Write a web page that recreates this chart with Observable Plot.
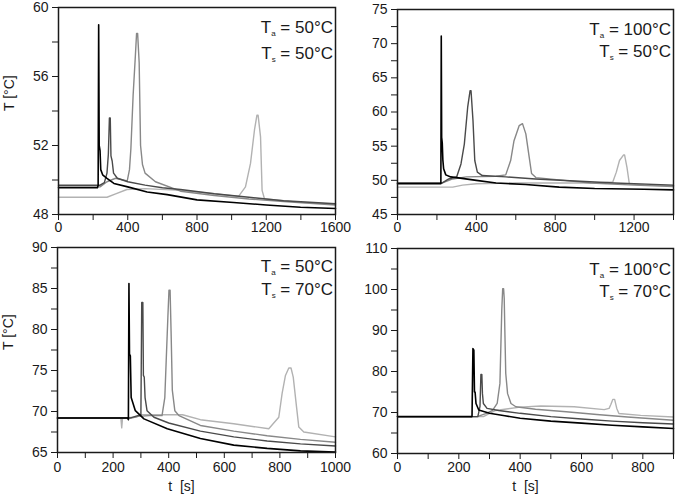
<!DOCTYPE html>
<html><head><meta charset="utf-8">
<script src="https://cdn.jsdelivr.net/npm/d3@7"></script>
<script src="https://cdn.jsdelivr.net/npm/@observablehq/plot@0.6"></script>
<style>
body{margin:0;background:#fff;}
#chart{position:relative;width:675px;height:498px;overflow:hidden;background:#fff;}
#chart svg{position:absolute;overflow:visible;}
</style></head><body><div id="chart"></div>
<script>
// ---- series styling order: black, dark gray, medium gray, light gray
const seriesNames = ["black", "dark", "medium", "light"];
const seriesColors = ["#000000", "#4a4a4a", "#888888", "#b2b2b2"];

// ---- Panel 1: Ta = 50 °C, Ts = 50 °C   [t (s), T (°C)]
const p1Black = [[0,49.55],[225,49.55],[229,49.7],[232,59.0],[235,52.0],[240,51.7],[244,50.6],[255,50.3],[280,50.1],[320,49.8],[400,49.6],[512,49.3],[628,49.15],[800,48.85],[1011,48.7],[1200,48.55],[1398,48.42],[1600,48.35]];
const p1Dark = [[0,49.7],[240,49.7],[265,49.85],[280,50.4],[288,51.5],[294,53.6],[299,53.6],[303,51.4],[310,51.1],[318,50.4],[340,50.1],[400,49.9],[500,49.7],[600,49.55],[705,49.45],[900,49.2],[1100,49.0],[1300,48.8],[1600,48.62]];
const p1Medium = [[0,49.6],[240,49.6],[280,49.9],[330,50.1],[397,49.95],[410,50.6],[418,51.8],[431,54.9],[444,57.2],[451,58.5],[457,58.5],[466,56.8],[474,52.0],[485,50.9],[500,50.4],[560,49.9],[705,49.35],[900,49.1],[1100,48.9],[1300,48.75],[1600,48.55]];
const p1Light = [[0,49.0],[280,49.0],[330,49.2],[395,49.45],[500,49.5],[705,49.4],[900,49.2],[1040,49.05],[1080,49.6],[1109,50.96],[1132,52.9],[1146,53.75],[1153,53.75],[1167,52.5],[1176,49.4],[1190,48.9],[1400,48.7],[1600,48.6]];

// ---- Panel 2: Ta = 100 °C, Ts = 50 °C
const p2Black = [[0,49.5],[220,49.5],[222,71.1],[224,56.3],[227,55.5],[230,53.0],[234,51.7],[245,50.8],[270,50.5],[300,50.4],[400,50.0],[500,49.6],[650,49.4],[820,49.0],[1000,48.8],[1250,48.7],[1400,48.6]];
const p2Dark = [[0,49.6],[225,49.6],[260,50.2],[300,50.5],[322,52.4],[339,55.3],[356,60.7],[368,63.1],[373,63.1],[383,58.7],[392,52.9],[405,51.2],[430,50.7],[550,50.5],[700,50.2],[900,49.9],[1100,49.6],[1400,49.3]];
const p2Medium = [[0,49.6],[225,49.6],[280,50.2],[350,50.5],[500,50.6],[549,50.8],[574,52.9],[591,55.8],[617,58.0],[634,58.3],[651,56.8],[668,53.4],[680,51.0],[702,50.4],[846,50.0],[981,49.6],[1200,49.3],[1400,49.1]];
const p2Light = [[0,49.0],[280,49.0],[330,49.3],[400,49.5],[600,49.6],[1000,49.6],[1092,49.75],[1110,51.2],[1126,52.9],[1146,53.7],[1152,53.7],[1164,51.9],[1176,49.5],[1250,49.3],[1400,49.2]];

// ---- Panel 3: Ta = 50 °C, Ts = 70 °C
const p3Black = [[0,69.2],[252,69.2],[255,69.0],[257,85.6],[259,77.0],[262,76.8],[265,71.7],[280,70.1],[311,69.1],[395,67.9],[514,66.7],[634,65.9],[754,65.5],[874,65.2],[1000,65.05]];
const p3Dark = [[0,69.2],[260,69.2],[280,69.4],[300,69.6],[303,83.3],[307,83.3],[309,74.4],[312,74.2],[315,71.7],[322,70.1],[347,69.3],[400,68.6],[514,67.6],[634,66.9],[754,66.4],[874,66.05],[1000,65.8]];
const p3Medium = [[0,69.2],[265,69.2],[290,69.4],[330,69.5],[376,69.5],[386,71.7],[391,76.2],[397,81.5],[401,84.8],[405,84.8],[409,79.1],[413,72.6],[422,70.1],[437,69.5],[514,68.3],[634,67.6],[754,67.05],[874,66.6],[1000,66.25]];
const p3Light = [[0,69.2],[228,69.2],[231,68.0],[234,69.2],[280,69.3],[300,69.6],[450,69.6],[514,69.0],[634,68.5],[760,67.9],[796,69.3],[808,72.2],[820,74.4],[832,75.3],[840,75.3],[848,74.2],[860,70.5],[868,68.1],[886,67.5],[1000,66.9]];

// ---- Panel 4: Ta = 100 °C, Ts = 70 °C
const p4Black = [[0,69],[243,69],[246,85.6],[249,85.2],[251,75.0],[253,75.0],[256,72.2],[265,70.6],[300,69.8],[350,69.2],[400,68.6],[500,67.9],[600,67.4],[700,66.9],[800,66.5],[900,66.1]];
const p4Dark = [[0,69],[262,69],[269,71.5],[272,79.3],[275,79.3],[277,74.6],[280,72.2],[292,71.0],[330,70.5],[400,69.8],[500,69.0],[600,68.4],[700,67.9],[800,67.5],[900,67.2]];
const p4Medium = [[0,69],[260,69],[290,69.8],[310,70.5],[325,72.2],[334,77.1],[340,95.0],[343,100.2],[346,100.2],[348,97.8],[350,90.1],[353,79.5],[359,74.6],[370,72.2],[386,71.4],[450,70.8],[550,70.2],[650,69.5],[750,68.9],[900,68.1]];
const p4Light = [[0,69],[280,69],[320,70.5],[400,71.3],[467,71.6],[576,71.4],[674,70.7],[690,71.0],[696,72.0],[702,73.2],[708,73.2],[715,71.0],[722,69.75],[793,69.3],[900,68.9]];

// ---- ticks
const p1XMajor = [0,400,800,1200,1600], p1XMinor = [200,600,1000,1400];
const p1YMajor = [48,52,56,60], p1YMinor = [50,54,58];
const p2XMajor = [0,400,800,1200], p2XMinor = [200,600,1000,1400];
const p2YMajor = [45,50,55,60,65,70,75], p2YMinor = [47.5,52.5,57.5,62.5,67.5,72.5];
const p3XMajor = [0,200,400,600,800,1000], p3XMinor = [100,300,500,700,900];
const p3YMajor = [65,70,75,80,85,90], p3YMinor = [67.5,72.5,77.5,82.5,87.5];
const p4XMajor = [0,200,400,600,800], p4XMinor = [100,300,500,700,900];
const p4YMajor = [60,70,80,90,100,110], p4YMinor = [65,75,85,95,105];

// ---- text
const yTitle = "T [°C]";
const xTitle = "t\u00a0\u00a0[s]";
const p1Notes = [["a","50"],["s","50"]];
const p2Notes = [["a","100"],["s","50"]];
const p3Notes = [["a","50"],["s","70"]];
const p4Notes = [["a","100"],["s","70"]];

const panels = [
  {left:0, top:0, width:337, height:240, mt:7, mb:26, ml:58, mr:2, xd:[0,1600], yd:[48,60],
   series:[p1Black,p1Dark,p1Medium,p1Light], xMaj:p1XMajor, xMin:p1XMinor, yMaj:p1YMajor, yMin:p1YMinor,
   xPad:2, yTitle:true, xTitle:false, notes:p1Notes, noteY:[26,52]},
  {left:337, top:0, width:338, height:240, mt:9, mb:26, ml:60, mr:2, xd:[0,1400], yd:[45,75],
   series:[p2Black,p2Dark,p2Medium,p2Light], xMaj:p2XMajor, xMin:p2XMinor, yMaj:p2YMajor, yMin:p2YMinor,
   xPad:2, yTitle:false, xTitle:false, notes:p2Notes, noteY:[26,48]},
  {left:0, top:240, width:337, height:258, mt:7, mb:46, ml:57, mr:2, xd:[0,1000], yd:[65,90],
   series:[p3Black,p3Dark,p3Medium,p3Light], xMaj:p3XMajor, xMin:p3XMinor, yMaj:p3YMajor, yMin:p3YMinor,
   xPad:4, yTitle:true, xTitle:true, xtDx:-15, xtDy:38, notes:p3Notes, noteY:[25,48]},
  {left:337, top:240, width:338, height:258, mt:8, mb:45, ml:60, mr:2, xd:[0,900], yd:[60,110],
   series:[p4Black,p4Dark,p4Medium,p4Light], xMaj:p4XMajor, xMin:p4XMinor, yMaj:p4YMajor, yMin:p4YMinor,
   xPad:3, yTitle:false, xTitle:true, xtDx:-10, xtDy:37, notes:p4Notes, noteY:[27,49]}
];

const container = document.getElementById("chart");
panels.forEach(cfg => {
  const lineMarks = cfg.series.map((pts, i) => Plot.line(pts, {
    x: d => d[0], y: d => d[1], stroke: seriesColors[i], strokeWidth: i === 0 ? 1.6 : 1.4
  })).reverse();
  const marks = [
    Plot.axisX({ticks: cfg.xMin, tickFormat: () => "", tickSize: 6, label: null}),
    Plot.axisX({ticks: cfg.xMaj, tickFormat: d => String(d), tickSize: 6, tickPadding: cfg.xPad, label: null}),
    Plot.axisY({ticks: cfg.yMin, tickFormat: () => "", tickSize: 6, label: null}),
    Plot.axisY({ticks: cfg.yMaj, tickFormat: d => String(d), tickSize: 6, tickPadding: 4, label: null}),
    ...lineMarks,
    Plot.frame({stroke: "#1a1a1a", strokeWidth: 1.5})
  ];
  if (cfg.yTitle) marks.push(Plot.text([yTitle], {text: d => d, frameAnchor: "left", dx: -49, rotate: -90, fontSize: 14, fill: "#1a1a1a"}));
  if (cfg.xTitle) marks.push(Plot.text([xTitle], {text: d => d, frameAnchor: "bottom", dx: cfg.xtDx, dy: cfg.xtDy, fontSize: 14, fill: "#1a1a1a"}));
  const svg = Plot.plot({
    width: cfg.width, height: cfg.height,
    marginTop: cfg.mt, marginBottom: cfg.mb, marginLeft: cfg.ml, marginRight: cfg.mr,
    x: {domain: cfg.xd}, y: {domain: cfg.yd},
    style: {fontFamily: "'Liberation Sans', Arial, sans-serif", fontSize: "14px", color: "#1a1a1a", background: "transparent", overflow: "visible"},
    marks
  });
  svg.style.left = cfg.left + "px";
  svg.style.top = cfg.top + "px";
  // annotations with subscripts
  const g = d3.select(svg).append("g")
    .attr("font-family", "'Liberation Sans', Arial, sans-serif")
    .attr("font-size", 17).attr("text-anchor", "end").attr("fill", "#1a1a1a");
  cfg.notes.forEach(([sub, val], k) => {
    const t = g.append("text").attr("x", cfg.width - cfg.mr - 2).attr("y", cfg.mt + cfg.noteY[k]);
    t.append("tspan").text("T");
    t.append("tspan").attr("font-size", 8).attr("dy", 3).text(sub);
    t.append("tspan").attr("dy", -3).text("\u00a0=\u00a0" + val + "°C");
  });
  container.appendChild(svg);
});
</script>
</body></html>
